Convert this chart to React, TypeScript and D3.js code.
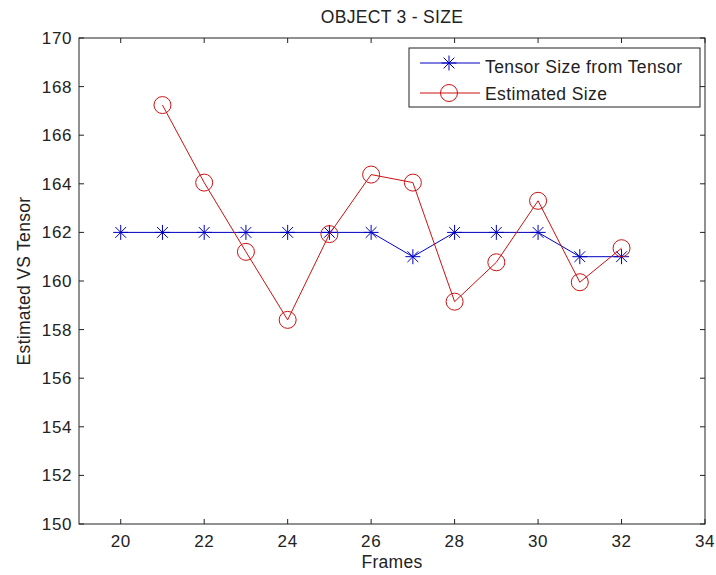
import React from "react";
import * as d3 from "d3";

const frames = [20, 21, 22, 23, 24, 25, 26, 27, 28, 29, 30, 31, 32];
const tensorSize = [162, 162, 162, 162, 162, 162, 162, 161, 162, 162, 162, 161, 161];
const estFrames = [21, 22, 23, 24, 25, 26, 27, 28, 29, 30, 31, 32];
const estimatedSize = [167.24, 164.05, 161.2, 158.4, 161.93, 164.38, 164.05, 159.15, 160.77, 163.3, 159.95, 161.35];
const xTicks = [20, 22, 24, 26, 28, 30, 32, 34];
const yTicks = [150, 152, 154, 156, 158, 160, 162, 164, 166, 168, 170];

const W = 716;
const H = 575;
const margin = { top: 38, right: 11, bottom: 51, left: 79 };
const font = "'Liberation Sans', Arial, sans-serif";
const blue = "#0000c0";
const red = "#cc1111";
const ink = "#222";

function Star({ x, y, r = 7.5 }: { x: number; y: number; r?: number }) {
  const d = r * 0.72;
  return (
    <g stroke={blue} strokeWidth={1}>
      <line x1={x - r} y1={y} x2={x + r} y2={y} />
      <line x1={x} y1={y - r} x2={x} y2={y + r} />
      <line x1={x - d} y1={y - d} x2={x + d} y2={y + d} />
      <line x1={x - d} y1={y + d} x2={x + d} y2={y - d} />
    </g>
  );
}

export default function App() {
  const x = d3
    .scaleLinear()
    .domain([19, 34])
    .range([margin.left, W - margin.right]);
  const y = d3
    .scaleLinear()
    .domain([150, 170])
    .range([H - margin.bottom, margin.top]);

  const line = d3
    .line<[number, number]>()
    .x((d) => x(d[0]))
    .y((d) => y(d[1]));

  const tensorPts = frames.map((f, i) => [f, tensorSize[i]] as [number, number]);
  const estPts = estFrames.map((f, i) => [f, estimatedSize[i]] as [number, number]);

  const x0 = margin.left;
  const x1 = W - margin.right;
  const y0 = H - margin.bottom;
  const y1 = margin.top;
  const tick = 5;

  // legend box
  const lg = { left: 409, top: 48, right: 700, bottom: 107 };

  return (
    <div style={{ position: "fixed", left: 0, top: 0, background: "#fff" }}>
      <svg width={W} height={H} style={{ display: "block" }}>
        <rect x={0} y={0} width={W} height={H} fill="#fff" />
        <text x={(x0 + x1) / 2} y={23} textAnchor="middle" fontFamily={font} fontSize={17.5} letterSpacing={0.3} fill={ink}>
          OBJECT 3 - SIZE
        </text>

        {/* data */}
        <path d={line(tensorPts) || ""} fill="none" stroke={blue} strokeWidth={1} />
        {tensorPts.map((p, i) => (
          <Star key={i} x={x(p[0])} y={y(p[1])} />
        ))}
        <path d={line(estPts) || ""} fill="none" stroke={red} strokeWidth={1} />
        {estPts.map((p, i) => (
          <circle key={i} cx={x(p[0])} cy={y(p[1])} r={8.5} fill="none" stroke={red} strokeWidth={1} />
        ))}

        {/* axes box */}
        <rect x={x0} y={y1} width={x1 - x0} height={y0 - y1} fill="none" stroke={ink} strokeWidth={1} />
        {xTicks.map((t) => (
          <g key={t}>
            <line x1={x(t)} x2={x(t)} y1={y0} y2={y0 - tick} stroke={ink} />
            <line x1={x(t)} x2={x(t)} y1={y1} y2={y1 + tick} stroke={ink} />
            <text x={x(t)} y={y0 + 23} textAnchor="middle" fontFamily={font} fontSize={17} letterSpacing={0.6} fill={ink}>
              {t}
            </text>
          </g>
        ))}
        {yTicks.map((t) => (
          <g key={t}>
            <line x1={x0} x2={x0 + tick} y1={y(t)} y2={y(t)} stroke={ink} />
            <line x1={x1} x2={x1 - tick} y1={y(t)} y2={y(t)} stroke={ink} />
            <text x={x0 - 7} y={y(t) + 6} textAnchor="end" fontFamily={font} fontSize={17} letterSpacing={0.6} fill={ink}>
              {t}
            </text>
          </g>
        ))}

        <text x={(x0 + x1) / 2} y={568} textAnchor="middle" fontFamily={font} fontSize={17.5} letterSpacing={0.3} fill={ink}>
          Frames
        </text>
        <text
          transform={`translate(30, ${(y0 + y1) / 2}) rotate(-90)`}
          textAnchor="middle"
          fontFamily={font}
          fontSize={17.5}
          letterSpacing={0.3}
          fill={ink}
        >
          Estimated VS Tensor
        </text>

        {/* legend */}
        <rect x={lg.left} y={lg.top} width={lg.right - lg.left} height={lg.bottom - lg.top} fill="#fff" stroke={ink} />
        <line x1={420} x2={480} y1={63} y2={63} stroke={blue} />
        <Star x={449} y={63} />
        <text x={485} y={73} fontFamily={font} fontSize={17.5} letterSpacing={0.4} fill={ink}>
          Tensor Size from Tensor
        </text>
        <line x1={420} x2={480} y1={93} y2={93} stroke={red} />
        <circle cx={449} cy={93} r={8.5} fill="none" stroke={red} />
        <text x={485} y={100} fontFamily={font} fontSize={17.5} letterSpacing={0.4} fill={ink}>
          Estimated Size
        </text>
      </svg>
    </div>
  );
}
